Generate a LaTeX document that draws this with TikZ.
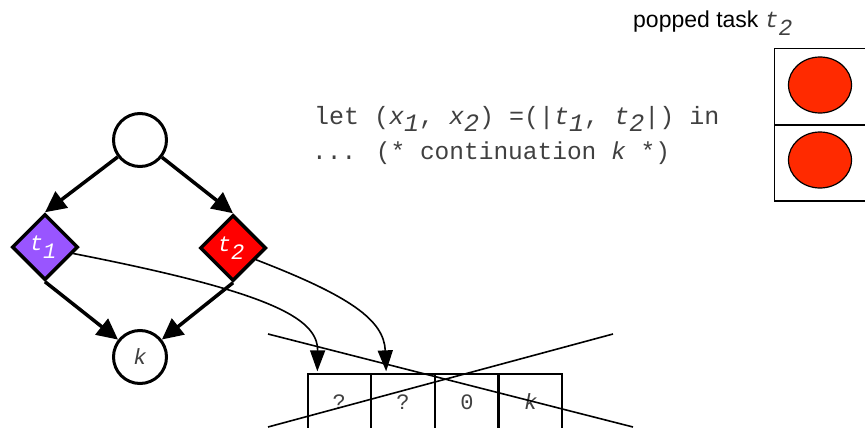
\documentclass[tikz,border=0pt]{standalone}
\usepackage{fontspec}
\usetikzlibrary{shapes.geometric,arrows.meta}
\newfontfamily\codefont{Liberation Mono}
\newfontfamily\sansfont{Liberation Sans}
\definecolor{txtgray}{HTML}{404040}
\definecolor{tpurple}{HTML}{9955FF}
\definecolor{tred}{HTML}{FF0000}
\definecolor{popred}{HTML}{FF2A00}
\newcommand\lsub[1]{\raisebox{-8pt}{#1}}
\tikzset{
  gnode/.style={circle,draw,line width=3pt,minimum size=53pt,inner sep=0pt,fill=white},
  tnode/.style={diamond,draw,line width=3.5pt,minimum width=66pt,minimum height=66pt,inner sep=0pt,
     text=white,font=\codefont\fontsize{22}{22}\selectfont\itshape},
  bigarrow/.style={line width=3.5pt,-{Triangle[length=21pt,width=20pt]}},
  thinarrow/.style={line width=1.6pt,-{Triangle[length=21pt,width=15pt]}},
  cell/.style={draw,line width=1.3pt,minimum width=62.5pt,minimum height=60pt,inner sep=0pt,
     text=txtgray,font=\codefont\fontsize{22}{22}\selectfont},
  stackcell/.style={draw,line width=1.3pt,minimum width=126pt,minimum height=75.5pt,inner sep=0pt},
  popball/.style={ellipse,draw,line width=1.2pt,fill=popred,minimum width=63pt,minimum height=56pt,inner sep=0pt},
  codetxt/.style={inner sep=0pt,anchor=base west,text=txtgray,font=\codefont\fontsize{25}{25}\selectfont},
}
\begin{document}
\begin{tikzpicture}[x=1pt,y=-1pt]
\useasboundingbox (0,0) rectangle (865,428);
\clip (0,0) rectangle (865,428);
% graph
\node[gnode] (top) at (140,140) {};
\node[tnode,fill=tpurple] (t1) at (45,247) {\hspace*{-4pt}t\lsub{1}};
\node[tnode,fill=tred] (t2) at (233,248) {\hspace*{-4pt}t\lsub{2}};
\node[gnode,text=txtgray,font=\codefont\fontsize{22}{22}\selectfont\itshape] (k) at (140,357) {k};
\draw[bigarrow] (top) -- (t1.north);
\draw[bigarrow] (top) -- (t2.north);
\draw[bigarrow] (t1.south) -- (k);
\draw[bigarrow] (t2.south) -- (k);
% code
\node[codetxt] (l1) at (314,124) {let (\textit{x}\lsub{\textit{1}}, \textit{x}\lsub{\textit{2}}) =(|\textit{t}\lsub{\textit{1}}, \textit{t}\lsub{\textit{2}}|) in};
\node[codetxt,font=\codefont\fontsize{24.5}{25}\selectfont] (l2) at (312,159) {... (* continuation \textit{k} *)};
% cells
\node[cell] (c1) at (339.25,404) {\raisebox{4pt}{?}};
\node[cell,anchor=west] (c2) at (c1.east) {\raisebox{4pt}{?}};
\node[cell,anchor=west] (c3) at (c2.east) {\raisebox{4pt}{0}};
\node[cell,anchor=west] (c4) at (c3.east) {\raisebox{4pt}{\itshape k}};
\coordinate (e1) at ([xshift=10pt,yshift=2pt]c1.north west);
\coordinate (e2) at ([xshift=15pt,yshift=2pt]c2.north west);
\draw[thinarrow] (t1.-13) .. controls (270,292) and (318,318) .. (e1);
\draw[thinarrow] (t2.-27) .. controls (350,296) and (384,320) .. (e2);
% cross
\coordinate (xa) at (268,334);
\coordinate (xb) at (633,427);
\coordinate (xc) at (268,427);
\coordinate (xd) at (613,334);
\draw[line width=1.6pt] (xa) -- (xb);
\draw[line width=1.6pt] (xc) -- (xd);
% popped task
\node[inner sep=0pt,anchor=base west,font=\sansfont\fontsize{23}{23}\selectfont] (pt) at (633,28)
  {popped task \textcolor{txtgray}{\codefont\itshape t\lsub{2}}};
\node[stackcell,anchor=north west] (s1) at (774,48) {};
\node[stackcell,anchor=north] (s2) at (s1.south) {};
\node[popball] (b1) at (820,85) {};
\node[popball] (b2) at (820,160) {};
\end{tikzpicture}
\end{document}
